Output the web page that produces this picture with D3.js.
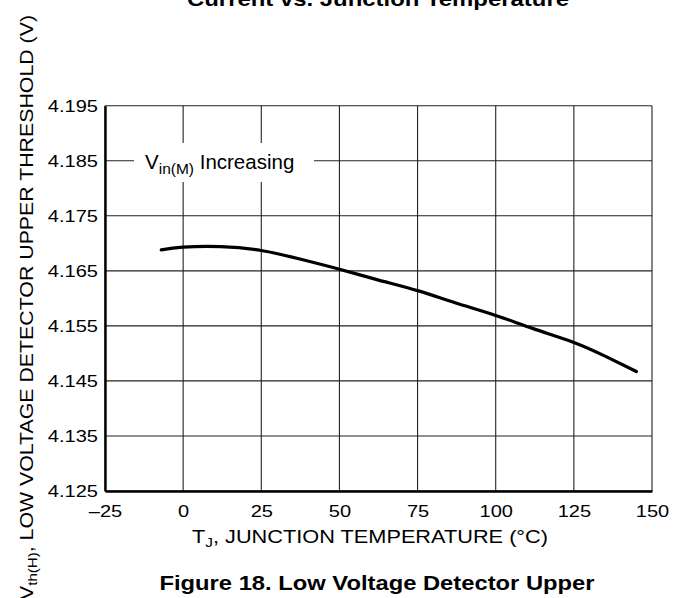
<!DOCTYPE html>
<html>
<head>
<meta charset="utf-8">
<script src="https://d3js.org/d3.v7.min.js"></script>
<style>
  body { margin: 0; background: #fff; }
  text { font-family: "Liberation Sans", Arial, Helvetica, sans-serif; fill: #000; }
  .grid line { stroke: #222; stroke-width: 1.1; }
</style>
</head>
<body>
<div id="chart"></div>
<script>
// curve
var tempC = [-7, 0, 12, 25, 37, 50, 62, 75, 87, 100, 112, 125, 135, 145];
var vthH = [4.1688, 4.1693, 4.1694, 4.1687, 4.1672, 4.1653, 4.1634, 4.1614, 4.1592, 4.1569, 4.1545, 4.1520, 4.1495, 4.1467];

var xTicks = [-25, 0, 25, 50, 75, 100, 125, 150];
var yTicks = [4.125, 4.135, 4.145, 4.155, 4.165, 4.175, 4.185, 4.195];

var titleText = "Current vs. Junction Temperature";
var captionText = "Figure 18. Low Voltage Detector Upper";

var svgWidth = 673, svgHeight = 598;
var plot = { left: 105, right: 652, top: 105.7, bottom: 491 };

var data = tempC.map((t, i) => ({ t: t, v: vthH[i] }));

var svg = d3.select("#chart")
  .append("svg")
  .attr("width", svgWidth)
  .attr("height", svgHeight);

var xScale = d3.scaleLinear()
  .domain([-25, 150])
  .range([plot.left, plot.right]);

var yScale = d3.scaleLinear()
  .domain([4.125, 4.195])
  .range([plot.bottom, plot.top]);

// grid
var grid = svg.append("g").attr("class", "grid");
grid.selectAll(".vx")
  .data(xTicks)
  .enter()
  .append("line")
  .attr("x1", d => xScale(d))
  .attr("x2", d => xScale(d))
  .attr("y1", plot.top)
  .attr("y2", plot.bottom);
grid.selectAll(".hy")
  .data(yTicks)
  .enter()
  .append("line")
  .attr("x1", plot.left)
  .attr("x2", plot.right)
  .attr("y1", d => yScale(d))
  .attr("y2", d => yScale(d));

// axes
var fmtX = d => d < 0 ? "\u2013" + Math.abs(d) : String(d);
var xAxis = d3.axisBottom(xScale).tickValues(xTicks).tickSize(0).tickPadding(14).tickFormat(fmtX);
var yAxis = d3.axisLeft(yScale).tickValues(yTicks).tickSize(0).tickPadding(6).tickFormat(d3.format(".3f"));

var gx = svg.append("g")
  .attr("transform", `translate(0, ${plot.bottom})`)
  .call(xAxis);
var gy = svg.append("g")
  .attr("transform", `translate(${plot.left}, 0)`)
  .call(yAxis);

[gx, gy].forEach(function(g) {
  g.select(".domain").attr("stroke", "#000").attr("stroke-width", 2.4);
  g.selectAll("text")
    .attr("font-family", "Liberation Sans, Arial, sans-serif")
    .attr("font-size", 17)
    .attr("fill", "#000")
    .attr("transform", "scale(1.18,1)");
});

// the curve
var line = d3.line()
  .x(d => xScale(d.t))
  .y(d => yScale(d.v))
  .curve(d3.curveNatural);

svg.append("path")
  .datum(data)
  .attr("d", line)
  .attr("fill", "none")
  .attr("stroke", "#000")
  .attr("stroke-width", 3.2)
  .attr("stroke-linecap", "round");

// annotation
svg.append("rect")
  .attr("x", 134)
  .attr("y", 143)
  .attr("width", 180)
  .attr("height", 39)
  .attr("fill", "#fff");

var note = svg.append("text")
  .attr("x", 145)
  .attr("y", 168.5)
  .attr("font-size", 20.5);
note.append("tspan").text("V");
note.append("tspan").attr("font-size", 15.5).attr("dy", 5).text("in(M)");
note.append("tspan").attr("dy", -5).text(" Increasing");

// axis titles
var xTitle = svg.append("text")
  .attr("x", 370)
  .attr("y", 543.3)
  .attr("text-anchor", "middle")
  .attr("font-size", 17.7)
  .attr("textLength", 356)
  .attr("lengthAdjust", "spacingAndGlyphs");
xTitle.append("tspan").text("T");
xTitle.append("tspan").attr("font-size", 12.5).attr("dy", 4).text("J");
xTitle.append("tspan").attr("dy", -4).text(", JUNCTION TEMPERATURE (\u00B0C)");

var yTitle = svg.append("text")
  .attr("transform", "translate(33.3, 307.5) rotate(-90)")
  .attr("text-anchor", "middle")
  .attr("font-size", 17.7)
  .attr("textLength", 585)
  .attr("lengthAdjust", "spacingAndGlyphs");
yTitle.append("tspan").text("V");
yTitle.append("tspan").attr("font-size", 12.5).attr("dy", 4).text("th(H)");
yTitle.append("tspan").attr("dy", -4).text(", LOW VOLTAGE DETECTOR UPPER THRESHOLD (V)");

// titles
svg.append("text")
  .attr("x", 378)
  .attr("y", 6)
  .attr("text-anchor", "middle")
  .attr("font-size", 19.5)
  .attr("font-weight", "bold")
  .attr("textLength", 382)
  .attr("lengthAdjust", "spacingAndGlyphs")
  .text(titleText);

svg.append("text")
  .attr("x", 377)
  .attr("y", 590)
  .attr("text-anchor", "middle")
  .attr("font-size", 19.5)
  .attr("font-weight", "bold")
  .attr("textLength", 435)
  .attr("lengthAdjust", "spacingAndGlyphs")
  .text(captionText);
</script>
</body>
</html>
